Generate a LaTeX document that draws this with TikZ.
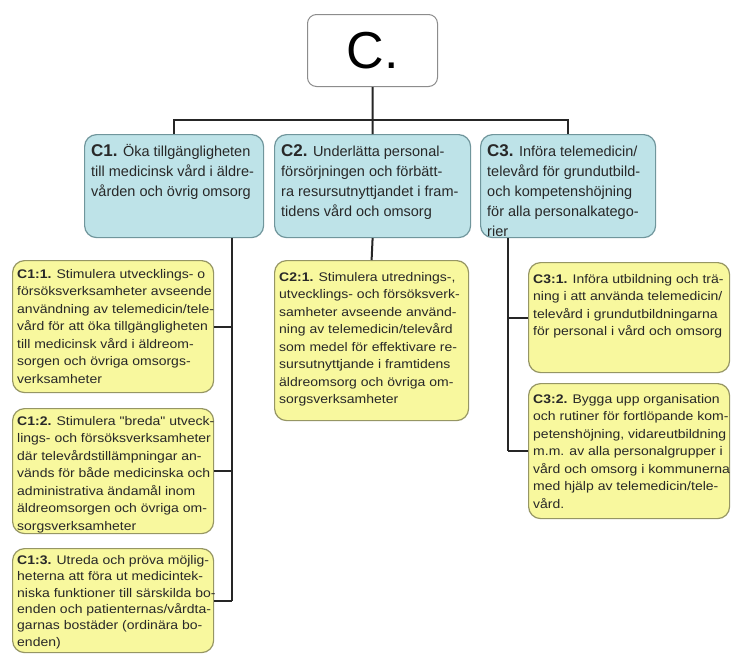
\documentclass[tikz,border=0pt]{standalone}
\usepackage{fontspec}
\setmainfont{Liberation Sans}
\newfontfamily\yfont[FakeStretch=1.12]{Liberation Sans}
\usetikzlibrary{calc}
\definecolor{bluefill}{RGB}{190,227,232}
\definecolor{blueline}{RGB}{112,150,156}
\definecolor{yelfill}{RGB}{248,248,158}
\definecolor{yelline}{RGB}{150,150,100}
\definecolor{txt}{RGB}{40,40,40}
\tikzset{
  bluebox/.style={draw=blueline, fill=bluefill, line width=1.2pt, rounded corners=12pt, inner sep=0pt, anchor=north west},
  yelbox/.style={draw=yelline, fill=yelfill, line width=1.2pt, rounded corners=12pt, inner sep=0pt, anchor=north west},
  topbox/.style={draw=black!45, fill=white, line width=1pt, rounded corners=9pt, minimum width=130pt, minimum height=72pt, inner sep=0pt, anchor=north west, font=\fontsize{52}{52}\selectfont},
  bluetext/.style={anchor=north west, inner sep=0pt, align=left, text=txt, font=\fontsize{14.5}{20}\selectfont},
  yeltext/.style={anchor=north west, inner sep=0pt, align=left, text=txt, font=\yfont\fontsize{12.5}{17.5}\selectfont},
  yeltextb/.style={anchor=north west, inner sep=0pt, align=left, text=txt, font=\yfont\fontsize{12.5}{16.4}\selectfont},
  conn/.style={line width=2pt, draw=black!85},
}
\newcommand{\blab}[1]{{\fontsize{17}{20}\selectfont\bfseries #1}}
\begin{document}
\begin{tikzpicture}[x=1pt,y=-1pt]
\fill[white] (0,0) rectangle (731,654);
\useasboundingbox (0,0) rectangle (731,654);

% top
\node[topbox] (C) at (307,14) {C.};

% level 1
\node[bluebox, minimum width=179pt, minimum height=103pt] (c1) at (84,134) {};
\node[bluebox, minimum width=196pt, minimum height=103pt] (c2) at (274,134) {};
\node[bluebox, minimum width=175pt, minimum height=103pt] (c3) at (480,134) {};

% level 2
\node[yelbox, minimum width=201pt, minimum height=132pt] (c11) at (12,260) {};
\node[yelbox, minimum width=201pt, minimum height=125pt] (c12) at (12,408) {};
\node[yelbox, minimum width=201pt, minimum height=104pt] (c13) at (12,548) {};
\node[yelbox, minimum width=194pt, minimum height=160pt] (c21) at (274,260) {};
\node[yelbox, minimum width=201pt, minimum height=110pt] (c31) at (528,262) {};
\node[yelbox, minimum width=201pt, minimum height=135pt] (c32) at (528,383) {};

% texts
\node[bluetext] (c1t) at ($(c1.north west)+(7,10)$) {\blab{C1.} Öka tillgängligheten\\till medicinsk vård i äldre-\\vården och övrig omsorg};
\node[bluetext] (c2t) at ($(c2.north west)+(7,10)$) {\blab{C2.} Underlätta personal-\\försörjningen och förbätt-\\ra resursutnyttjandet i fram-\\tidens vård och omsorg};
\node[bluetext] (c3t) at ($(c3.north west)+(7,10)$) {\blab{C3.} Införa telemedicin/\\televård för grundutbild-\\och kompetenshöjning\\för alla personalkatego-\\rier};

\node[yeltext] (c11t) at ($(c11.north west)+(5,9)$) {\textbf{C1:1.} Stimulera utvecklings- o\\försöksverksamheter avseende\\användning av telemedicin/tele-\\vård för att öka tillgängligheten\\till medicinsk vård i äldreom-\\sorgen och övriga omsorgs-\\verksamheter};
\node[yeltext] (c12t) at ($(c12.north west)+(5,8)$) {\textbf{C1:2.} Stimulera "breda" utveck-\\lings- och försöksverksamheter\\där televårdstillämpningar an-\\vänds för både medicinska och\\administrativa ändamål inom\\äldreomsorgen och övriga om-\\sorgsverksamheter};
\node[yeltextb] (c13t) at ($(c13.north west)+(5,7)$) {\textbf{C1:3.} Utreda och pröva möjlig-\\heterna att föra ut medicintek-\\niska funktioner till särskilda bo-\\enden och patienternas/vårdta-\\garnas bostäder (ordinära bo-\\enden)};
\node[yeltext] (c21t) at ($(c21.north west)+(5,12)$) {\textbf{C2:1.} Stimulera utrednings-,\\utvecklings- och försöksverk-\\samheter avseende använd-\\ning av telemedicin/televård\\som medel för effektivare re-\\sursutnyttjande i framtidens\\äldreomsorg och övriga om-\\sorgsverksamheter};
\node[yeltext] (c31t) at ($(c31.north west)+(5,12)$) {\textbf{C3:1.} Införa utbildning och trä-\\ning i att använda telemedicin/\\televård i grundutbildningarna\\för personal i vård och omsorg};
\node[yeltext] (c32t) at ($(c32.north west)+(5,11)$) {\textbf{C3:2.} Bygga upp organisation\\och rutiner för fortlöpande kom-\\petenshöjning, vidareutbildning\\m.m. av alla personalgrupper i\\vård och omsorg i kommunerna\\med hjälp av telemedicin/tele-\\vård.};

% connectors
\coordinate (bus) at (0,120);
\coordinate (sp1) at (232,0);
\coordinate (sp3) at (508,0);
\draw[conn] (c1.north) -- (c1.north |- bus) -- (c3.north |- bus) -- (c3.north);
\draw[conn] (C.south) -- (c2.north);
\draw[conn] (sp1 |- c1.south) -- (sp1 |- c13.east);
\draw[conn] (c11.east) -- (sp1 |- c11.east);
\draw[conn] (c12.east) -- (sp1 |- c12.east);
\draw[conn] (c13.east) -- (sp1 |- c13.east);
\draw[conn] (c2.south) -- (c21.north);
\draw[conn] (sp3 |- c3.south) -- (sp3 |- c32.west);
\draw[conn] (c31.west) -- (sp3 |- c31.west);
\draw[conn] (c32.west) -- (sp3 |- c32.west);
\end{tikzpicture}
\end{document}
